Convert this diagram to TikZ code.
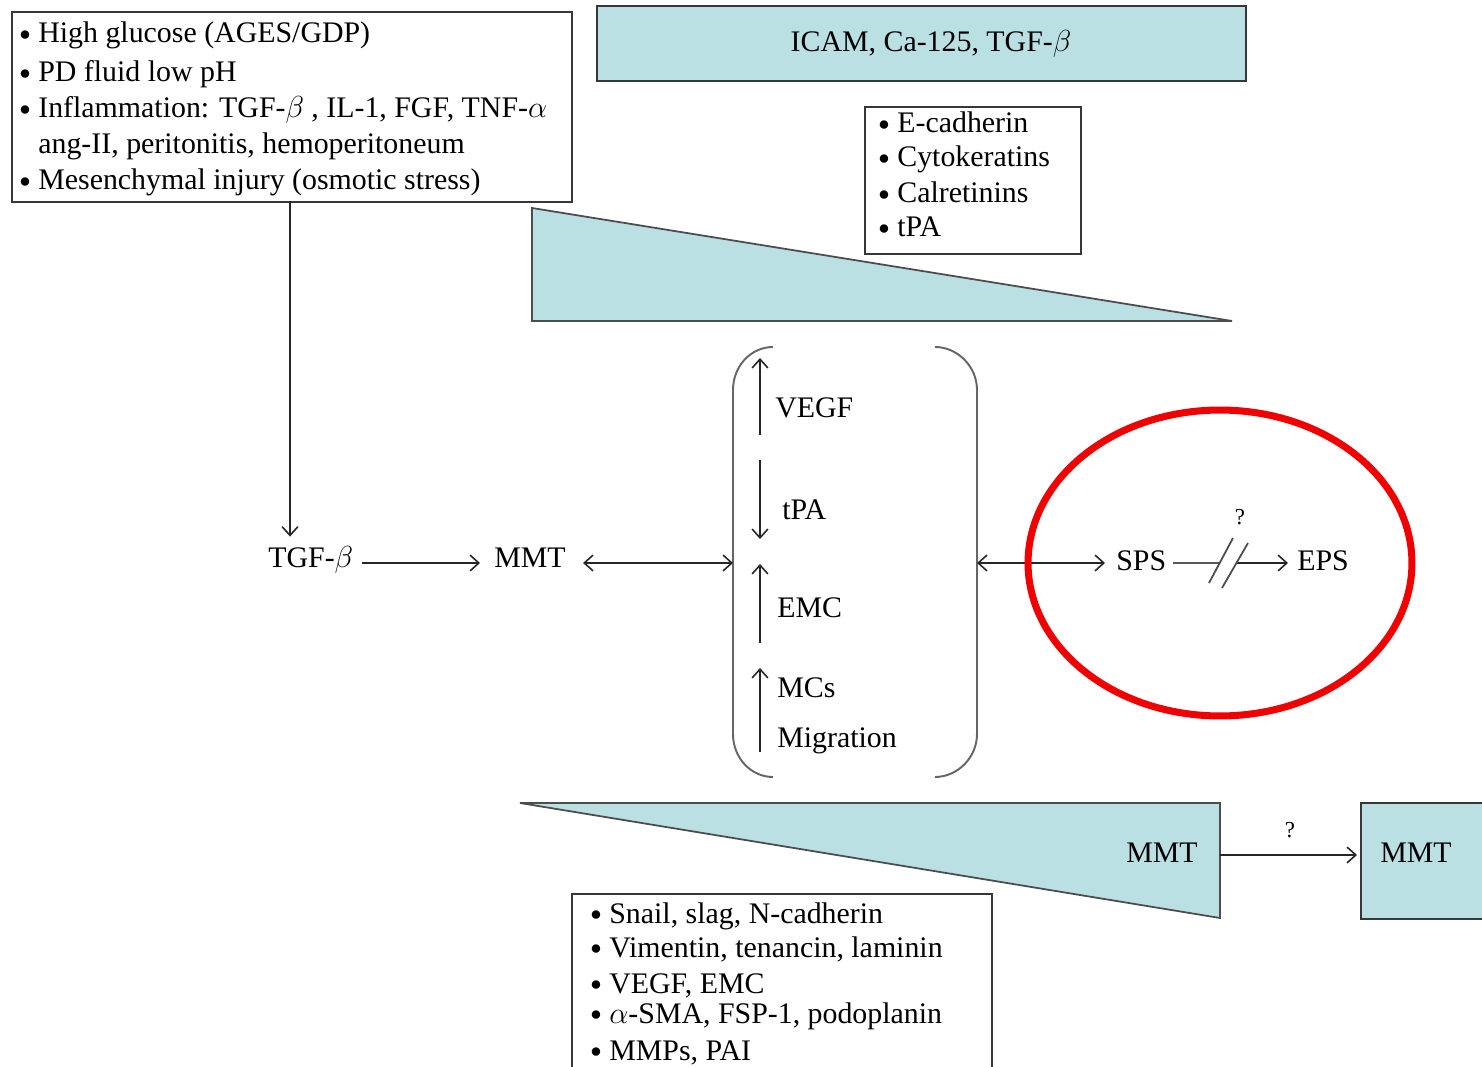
\documentclass[tikz,border=0pt]{standalone}
\usepackage{fontspec}
\setmainfont{Liberation Serif}
\usetikzlibrary{arrows.meta}
\definecolor{tealfill}{RGB}{187,224,228}
\definecolor{edgegray}{RGB}{55,55,55}
\definecolor{ringred}{RGB}{240,0,0}
\newcommand{\dotitem}{\llap{\raisebox{1.3pt}{\scalebox{0.72}{$\bullet$}}\hspace{4.5pt}}}
\begin{document}
\begin{tikzpicture}[x=0.02cm,y=-0.02cm,
  fnt/.style={font=\fontsize{17}{21}\selectfont},
  ln/.style={fnt, anchor=base west, inner sep=0pt},
  lblA/.style={fnt, anchor=west, inner xsep=0pt, inner ysep=0pt, text height=4.6pt, text depth=0pt},
  lblB/.style={lblA, text height=9.1pt},
  qmark/.style={font=\fontsize{13}{15}\selectfont, inner sep=0pt},
  conn/.style={line width=0.9pt, black!85},
  arr/.style={conn, -{Straight Barb[length=5pt,width=9pt]}},
  darr/.style={conn, {Straight Barb[length=5pt,width=9pt]}-{Straight Barb[length=5pt,width=9pt]}},
  frame/.style={draw=edgegray, line width=1.1pt, inner sep=0pt, anchor=north west},
  tealframe/.style={frame, fill=tealfill},
  tri/.style={fill=tealfill, draw=black!70, line width=1pt, line join=miter},
  brk/.style={draw=black!70, line width=1pt},
  paren/.style={draw=black!60, line width=1.1pt},
]
\clip (0,0) rectangle (1482,1067);
\fill[white] (0,0) rectangle (1482,1067);

% ---- boxes and wedges
\node[frame, minimum width=11.2cm, minimum height=3.8cm] (causes) at (11,11) {};
\node[tealframe, minimum width=12.98cm, minimum height=1.5cm] (markers) at (596,5) {};
\node[frame, minimum width=4.32cm, minimum height=2.94cm] (epi) at (864,106) {};
\node[frame, minimum width=8.4cm, minimum height=4cm] (mes) at (571,893) {};
\filldraw[tri] (532,208) -- (532,321) -- (1232,321) -- cycle;
\filldraw[tri] (520,803) -- (1220,803) -- (1220,918) -- cycle;
\node[tealframe, minimum width=3.2cm, minimum height=2.32cm] (mmtbox) at (1360,802) {};

% ---- list texts
\node[ln] (c1) at (38,43) {\dotitem High glucose (AGES/GDP)};
\node[ln] (c2) at (38,82) {\dotitem PD fluid low pH};
\node[ln] (c3) at (38,118) {\dotitem Inflammation: TGF-$\beta$\ , IL-1, FGF, TNF-$\alpha$};
\node[ln] (c4) at (38,154) {ang-II, peritonitis, hemoperitoneum};
\node[ln] (c5) at (38,190) {\dotitem Mesenchymal injury (osmotic stress)};

\node[ln, anchor=base] (icam) at (931,52) {ICAM, Ca-125, TGF-$\beta$};

\node[ln] (e1) at (897,133) {\dotitem E-cadherin};
\node[ln] (e2) at (897,167) {\dotitem Cytokeratins};
\node[ln] (e3) at (897,203) {\dotitem Calretinins};
\node[ln] (e4) at (897,237) {\dotitem tPA};

\node[ln] (m1) at (609,923) {\dotitem Snail, slag, N-cadherin};
\node[ln] (m2) at (609,957) {\dotitem Vimentin, tenancin, laminin};
\node[ln] (m3) at (609,993) {\dotitem VEGF, EMC};
\node[ln] (m4) at (609,1023) {\dotitem $\alpha$-SMA, FSP-1, podoplanin};
\node[ln] (m5) at (609,1060) {\dotitem MMPs, PAI};

% ---- main row labels
\node[lblA] (tgf) at (268,563) {TGF-$\beta$};
\node[lblA] (mmt) at (494,563) {MMT};
\node[lblB] (sps) at (1116,563) {SPS};
\node[lblB] (eps) at (1297,563) {EPS};
\node[qmark] (q1) at (1240,517) {?};

% ---- bracket contents
\node[ln] (vegf) at (775,418) {VEGF};
\node[ln] (tpa) at (782,520) {tPA};
\node[ln] (emc) at (777,618) {EMC};
\node[ln] (mcs) at (777,698) {MCs};
\node[ln] (migr) at (777,747) {Migration};

% ---- bottom labels
\node[ln] (mmt2) at (1126,862) {MMT};
\node[ln] (mmt3) at (1380,862) {MMT};
\node[qmark] (q2) at (1290,830) {?};

% ---- brackets
\draw[paren] (773,347) .. controls (751,347) and (733,366) .. (733,390) -- (733,734) .. controls (733,758) and (751,777) .. (773,777);
\draw[paren] (935,347) .. controls (957,347) and (977,366) .. (977,390) -- (977,734) .. controls (977,758) and (957,777) .. (935,777);
\coordinate (brL) at (733,563);
\coordinate (brR) at (977,563);

% ---- connectors
\coordinate (drop) at (290,201);
\draw[arr, shorten >=0.44cm] (drop) -- (drop |- tgf.north);
\draw[arr, shorten <=0.16cm, shorten >=0.28cm] (tgf.east) -- (mmt.west);
\draw[darr, shorten <=0.34cm] (mmt.east) -- (brL);
\draw[darr, shorten >=0.22cm] (brR) -- (sps.west);
\coordinate (cut1) at (1220,563);
\coordinate (cut2) at (1236,563);
\draw[conn, black!65, shorten <=0.12cm] (sps.east) -- (cut1);
\draw[arr, shorten >=0.18cm] (cut2) -- (eps.west);
\draw[brk] (1233,538) -- (1209,583);
\draw[brk] (1248,543) -- (1222,588);

\coordinate (tri2r) at (1220,855);
\draw[arr, shorten >=0.06cm] (tri2r) -- (tri2r -| mmtbox.west);

% arrows inside bracket
\coordinate (a1s) at (760,435); \coordinate (a1e) at (760,358);
\coordinate (a2s) at (760,460); \coordinate (a2e) at (760,539);
\coordinate (a3s) at (760,643); \coordinate (a3e) at (760,564);
\coordinate (a4s) at (760,752); \coordinate (a4e) at (760,668);
\draw[arr] (a1s) -- (a1e);
\draw[arr] (a2s) -- (a2e);
\draw[arr] (a3s) -- (a3e);
\draw[arr] (a4s) -- (a4e);

% ---- red ring
\draw[ringred, line width=4pt] (1220,563) ellipse [x radius=3.84cm, y radius=3.06cm];
\end{tikzpicture}
\end{document}
